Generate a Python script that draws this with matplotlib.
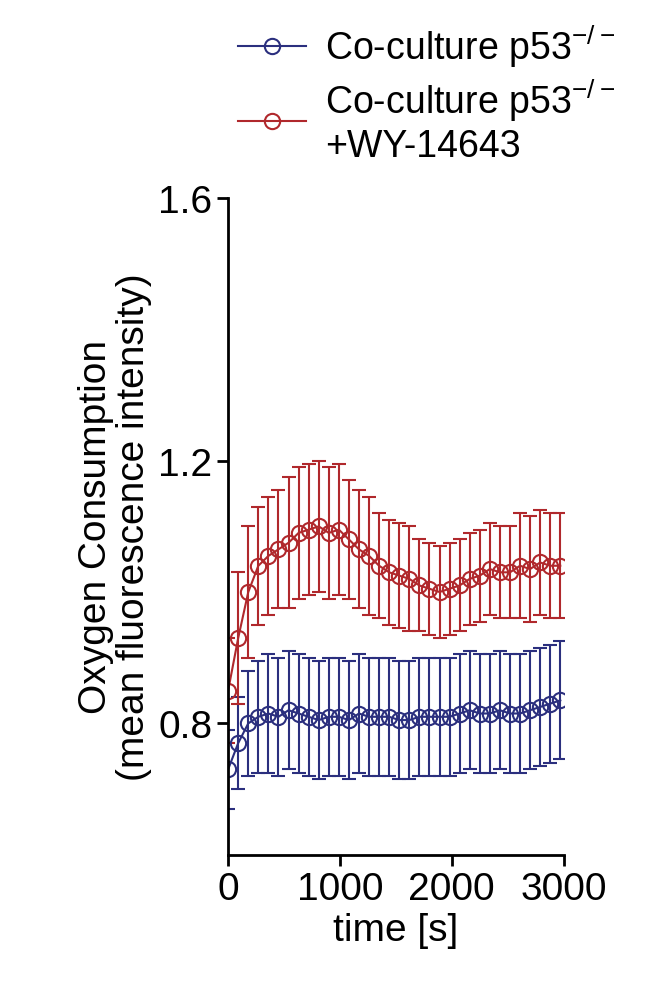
import numpy as np
import matplotlib.pyplot as plt
from matplotlib.lines import Line2D

plt.rcParams["font.family"] = "Liberation Sans"
plt.rcParams["mathtext.fontset"] = "custom"
plt.rcParams["mathtext.rm"] = "Liberation Sans"

time_s = np.arange(34) * 90
ctrl_mean = [0.73, 0.77, 0.80, 0.81, 0.815, 0.81, 0.82, 0.815, 0.81, 0.805, 0.81, 0.81,
             0.805, 0.815, 0.81, 0.81, 0.81, 0.805, 0.805, 0.81, 0.81, 0.81, 0.81, 0.815,
             0.82, 0.815, 0.815, 0.82, 0.815, 0.815, 0.82, 0.825, 0.83, 0.835]
ctrl_err = [0.06, 0.07, 0.08, 0.085, 0.09, 0.09, 0.09, 0.09, 0.09, 0.09, 0.09, 0.09,
            0.09, 0.09, 0.09, 0.09, 0.09, 0.09, 0.09, 0.09, 0.09, 0.09, 0.09, 0.09,
            0.09, 0.09, 0.09, 0.09, 0.09, 0.09, 0.09, 0.09, 0.09, 0.09]
wy_mean = [0.85, 0.93, 1.00, 1.04, 1.055, 1.065, 1.075, 1.09, 1.095, 1.10, 1.09, 1.095,
           1.08, 1.065, 1.055, 1.04, 1.03, 1.025, 1.02, 1.01, 1.005, 1.00, 1.005, 1.01,
           1.02, 1.025, 1.035, 1.03, 1.03, 1.04, 1.035, 1.045, 1.04, 1.04]
wy_err = [0.08, 0.10, 0.10, 0.09, 0.09, 0.09, 0.10, 0.10, 0.10, 0.10, 0.10, 0.10,
          0.09, 0.09, 0.09, 0.08, 0.08, 0.08, 0.08, 0.07, 0.07, 0.07, 0.07, 0.07,
          0.07, 0.07, 0.07, 0.07, 0.07, 0.08, 0.08, 0.08, 0.08, 0.08]

blue = "#2b2f7e"
red = "#b0282c"

fig = plt.figure(figsize=(6.71, 9.95), dpi=100)
ax = fig.add_axes([0.34, 0.14, 0.50, 0.66])

handles = []
for m, e, c, lab in [(ctrl_mean, ctrl_err, blue, "Co-culture p53$^{-/-}$"),
                     (wy_mean, wy_err, red, "Co-culture p53$^{-/-}$\n+WY-14643")]:
    ax.errorbar(time_s, m, yerr=e, color=c, lw=1.5, elinewidth=1.5, capsize=5,
                marker="o", ms=11, mfc="none", mew=1.5)
    handles.append(Line2D([], [], color=c, lw=1.5, marker="o", ms=11, mfc="none",
                          mew=1.5, label=lab))

ax.set_xlim(0, 3000)
ax.set_ylim(0.6, 1.6)
ax.set_xticks([0, 1000, 2000, 3000])
ax.set_yticks([0.8, 1.2, 1.6])
ax.spines[["top", "right"]].set_visible(False)
ax.spines[["left", "bottom"]].set_linewidth(2)
ax.tick_params(labelsize=28, width=2, length=8)
ax.set_xlabel("time [s]", fontsize=28)
ax.set_ylabel("Oxygen Consumption\n(mean fluorescence intensity)", fontsize=28,
              linespacing=1.1)
ax.legend(handles=handles, loc="lower left", bbox_to_anchor=(-0.07, 1.0),
          frameon=False, fontsize=27, handlelength=1.8, labelspacing=0.2,
          handletextpad=0.5)

fig.savefig("out.png", dpi=100)
